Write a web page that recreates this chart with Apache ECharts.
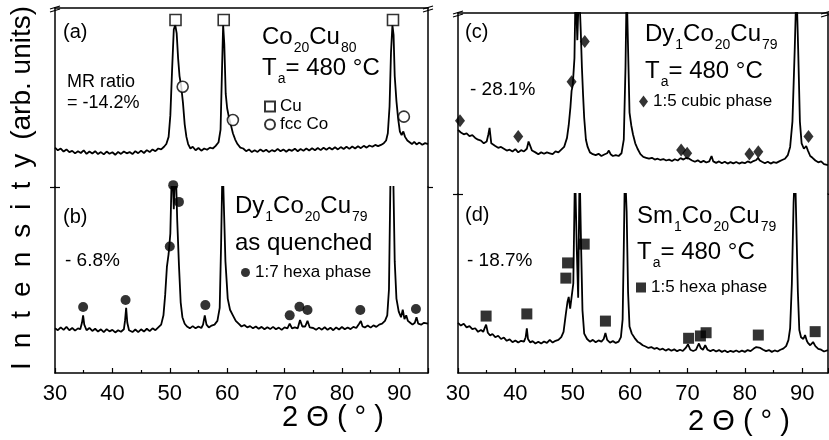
<!DOCTYPE html>
<html>
<head>
<meta charset="utf-8">
<script src="https://cdn.jsdelivr.net/npm/echarts@6/dist/echarts.min.js"></script>
<style>
  html, body { margin: 0; padding: 0; background: #fff; }
  #main { width: 829px; height: 440px; }
</style>
</head>
<body>
<div id="main"></div>
<script>
// 2theta (deg) / intensity (0-100 of each panel height)
const traceA = [
  [30,22],[30.5,20.5],[31,21.5],[31.5,19.8],[32,21],[32.5,19.5],[33,20.2],[33.5,18.8],[34,20],[34.5,19],
  [35,20.5],[35.5,18.5],[36,19.8],[36.5,18.7],[37,20],[37.5,18.4],[38,19.5],[38.5,18.2],[39,19.8],[39.5,18.6],
  [40,19.4],[40.5,18],[41,19.6],[41.5,18.5],[42,19.8],[42.5,18.8],[43,19.5],[43.5,18.4],[44,20],[44.5,18.9],
  [45,20.3],[45.5,19],[46,20.6],[46.5,19.5],[47,21],[47.5,20],[48,21.5],[48.5,21],[49,22.5],[49.4,24],
  [49.8,28],[50.1,40],[50.4,65],[50.7,88],[50.95,90.5],[51.2,86],[51.45,72],[51.7,62],[52.0,56],[52.3,47],
  [52.6,35],[52.9,28],[53.2,24],[53.6,21.5],[54,22.5],[54.5,20.5],[55,21.8],[55.5,20.3],[56,21.5],[56.5,20.8],
  [57,22],[57.5,21.5],[58,23],[58.5,25],[58.85,32],[59.1,65],[59.3,90.5],[59.5,80],[59.75,52],[60.0,44],
  [60.3,39],[60.7,34],[61,30],[61.4,26.5],[61.8,24],[62.3,22],[62.8,21.5],[63.3,20],[63.8,21],[64.3,19.5],
  [64.8,20.5],[65.3,19.6],[65.8,21],[66.3,19.8],[66.8,20.8],[67.3,19.5],[67.8,20.6],[68.3,19.9],[68.8,21.3],[69.3,20],
  [69.8,21],[70.3,19.7],[70.8,20.9],[71.3,20.2],[71.8,21.4],[72.3,20],[72.8,21.2],[73.3,20.3],[73.8,21.5],[74.3,20.4],
  [74.8,21.6],[75.3,20.5],[75.8,21.8],[76.3,20.6],[76.8,21.9],[77.3,20.8],[77.8,22],[78.3,21],[78.8,22.2],[79.3,21],
  [79.8,22.3],[80.3,21.2],[80.8,22.5],[81.3,21.3],[81.8,22.6],[82.3,21.5],[82.8,22.8],[83.3,21.7],[83.8,23],[84.3,22],
  [84.8,23.2],[85.3,22.5],[85.8,23.5],[86.3,22.8],[86.8,23.5],[87.3,24.5],[87.7,26],[88.0,30],[88.3,45],[88.55,75],
  [88.8,90.5],[89.0,85],[89.2,62],[89.5,48],[89.8,38],[90.1,31],[90.4,29],[90.7,31],[91.0,28],[91.4,26],
  [91.8,25],[92.2,24],[92.6,25.2],[93,23.8],[93.5,24.8],[94,23.6],[94.5,24.5],[95,24]
];
const traceB = [
  [30,24],[30.5,23],[31,24.5],[31.5,23.2],[32,24.8],[32.5,23],[33,24.2],[33.5,22.8],[34,24],[34.4,23.5],
  [34.7,27],[34.9,31],[35.1,26],[35.5,23],[36,24.2],[36.5,22.6],[37,23.8],[37.5,22.3],[38,23.5],[38.5,22],
  [39,23.6],[39.5,22.4],[40,23.2],[40.5,21.8],[41,23],[41.5,22.2],[42,23.5],[42.2,28],[42.4,35],[42.6,27],
  [42.9,23],[43.5,22],[44,23.4],[44.5,22],[45,23.5],[45.5,22.3],[46,23.8],[46.5,22.5],[47,24],[47.5,23],
  [48,24.5],[48.5,26],[48.9,31],[49.2,42],[49.5,57],[49.8,64],[50.1,75],[50.4,115],[50.7,88],[51.0,115],
  [51.3,82],[51.6,58],[51.9,38],[52.2,30],[52.6,26.5],[53,25],[53.5,24],[54,25.2],[54.5,24],[55,25],
  [55.5,24.2],[55.8,26],[56.1,31],[56.4,26],[56.8,24.5],[57.3,25.5],[57.8,26],[58.3,28],[58.7,35],[58.95,70],
  [59.2,115],[59.45,115],[59.7,60],[60.1,40],[60.5,34],[61,31],[61.5,28],[62,26.5],[62.5,25],[63,25.8],
  [63.5,24.5],[64,25.2],[64.5,24],[65,25],[65.5,23.8],[66,24.8],[66.5,23.5],[67,24.6],[67.5,23.6],[68,24.8],
  [68.5,23.5],[69,24.4],[69.5,23.2],[70,24.5],[70.5,24],[70.9,26.5],[71.3,24],[71.8,24.5],[72.3,24],[72.7,28.5],
  [73.1,25],[73.6,25],[74,28],[74.4,24.5],[75,24.2],[75.5,23.2],[76,24.4],[76.5,23.3],[77,24.6],[77.5,23.2],
  [78,24.3],[78.5,23],[79,24.5],[79.5,23.4],[80,24.7],[80.5,23.5],[81,24.5],[81.5,23.6],[82,24.8],[82.5,24.2],
  [83,26.5],[83.3,28],[83.6,25],[84,24.5],[84.5,25.5],[85,24.4],[85.5,25.6],[86,24.8],[86.5,26],[87,26.5],
  [87.5,28],[87.9,31],[88.2,45],[88.5,115],[88.9,115],[89.2,60],[89.5,40],[89.9,33],[90.3,30],[90.6,34],
  [90.9,29],[91.2,31],[91.5,28],[91.9,27],[92.3,26],[92.7,27],[93.0,30],[93.3,26.5],[93.8,26],[94.3,27],[95,26.5]
];
const traceC = [
  [30,35.4],[30.5,34],[31,33],[31.5,33.5],[32,32],[32.5,32.5],[33,31],[33.5,30],[34,29.5],[34.5,28],
  [35,29],[35.3,33],[35.5,36.5],[35.8,28],[36,27],[36.5,26.5],[37,25.5],[37.5,26],[38,25],[38.5,24],
  [39,24.5],[39.5,23.5],[40,24.8],[40.5,23],[41,24.2],[41.5,23.5],[42,25],[42.3,29],[42.6,28],[42.9,24],
  [43.5,23],[44,22],[44.5,23],[45,22.2],[45.5,23],[46,22.5],[46.5,22],[47,23.5],[47.5,23],[48,24.5],
  [48.5,26],[49,31],[49.3,38],[49.6,48],[49.8,57],[50.0,60],[50.3,75],[50.5,115],[50.8,85],[51.1,115],
  [51.4,90],[51.6,70],[51.8,55],[52.0,42],[52.3,30],[52.6,26],[53,23],[53.5,22],[54,21.5],[54.5,22.2],
  [55,21],[55.5,21.8],[56,22.5],[56.3,24],[56.6,22],[57,21],[57.5,21.5],[58,21],[58.5,22.5],[58.9,30],
  [59.2,70],[59.4,115],[59.65,80],[59.9,45],[60.2,38],[60.5,33],[60.9,28],[61.3,25],[61.8,22],[62.3,20.5],
  [62.8,20],[63.3,19.5],[63.8,20],[64.3,19],[64.8,19.5],[65.3,18.8],[65.8,19.3],[66.3,18.5],[66.8,19],[67.3,18.2],
  [67.8,19.2],[68.3,18.5],[68.8,19.8],[69.3,19],[69.8,20],[70.3,19.5],[70.8,18.5],[71.3,17.8],[71.8,18.6],[72.3,17.5],
  [72.8,18.3],[73.3,17.4],[73.8,18],[74.2,21],[74.5,18],[75,17.2],[75.5,18],[76,17],[76.5,17.8],[77,16.8],
  [77.5,17.6],[78,16.9],[78.5,17.7],[79,16.8],[79.5,17.5],[80,17],[80.5,18],[81,17.3],[81.5,18.2],[82,18.8],
  [82.3,20],[82.6,18.5],[83,17.8],[83.5,17],[84,17.8],[84.5,16.8],[85,17.6],[85.5,17.2],[86,18],[86.5,18.8],
  [87,19.5],[87.5,21.5],[87.9,26],[88.3,40],[88.7,80],[89.0,115],[89.3,80],[89.6,40],[89.9,28],[90.3,25],
  [90.7,26.5],[91.0,24],[91.4,21],[91.8,20],[92.3,18.5],[92.8,17.5],[93.3,18],[93.8,16.5],[94.5,16]
];
const traceD = [
  [30,28],[30.5,26.5],[31,27.5],[31.5,25.5],[32,26.2],[32.5,24.5],[33,25],[33.5,23],[34,24],[34.4,23],
  [34.7,25.5],[34.9,27],[35.2,22.5],[35.6,21],[36,21.8],[36.5,20],[37,20.8],[37.5,19],[38,19.8],[38.5,18],
  [39,18.8],[39.5,17.2],[40,18.2],[40.5,17],[41,18],[41.5,17.5],[41.8,20],[42.0,25],[42.2,19],[42.6,17],
  [43,17.8],[43.5,16.5],[44,17.5],[44.5,16.5],[45,17.6],[45.5,16.8],[46,18.5],[46.5,17],[47,18],[47.5,18.5],
  [48,20],[48.4,23],[48.8,33],[49.1,40],[49.3,42.5],[49.55,36],[49.8,35],[50.1,50],[50.4,115],[50.7,70],
  [50.95,42],[51.2,115],[51.45,72],[51.7,35],[52.0,22],[52.5,19],[53,17.5],[53.5,18.5],[54,17.2],[54.5,18.2],
  [55,17.5],[55.4,19],[55.7,22.3],[56,18.5],[56.5,17],[57,17.8],[57.5,16.8],[58,17.5],[58.4,20],[58.7,30],
  [58.9,70],[59.1,115],[59.4,90],[59.65,45],[59.9,26],[60.3,22],[60.8,19.5],[61.3,17.5],[61.7,16.8],[62.2,15.5],
  [62.7,14.8],[63.2,14],[63.7,14.5],[64.2,13.5],[64.7,14],[65.2,13],[65.7,13.6],[66.2,12.5],[66.7,13.4],[67.2,12.4],
  [67.7,13.2],[68.2,12.2],[68.7,13],[69.2,12.3],[69.7,14],[70.1,16],[70.5,13],[71,12.3],[71.5,13],[72.0,16.5],
  [72.3,14],[72.7,13],[73.1,15.5],[73.5,13],[74,12.2],[74.5,13],[75,12],[75.5,12.8],[76,11.8],[76.5,12.6],
  [77,11.6],[77.5,12.4],[78,11.8],[78.5,12.6],[79,11.7],[79.5,12.5],[80,11.8],[80.5,12.8],[81,12.2],[81.5,13.5],
  [82,14.5],[82.3,15.6],[82.7,14],[83.2,13],[83.7,12.2],[84.2,12.8],[84.7,11.8],[85.2,12.6],[85.7,12],[86.2,13],
  [86.7,13.6],[87.2,15],[87.6,18.4],[87.9,25],[88.2,50],[88.5,95],[88.75,115],[89.0,80],[89.25,45],[89.5,24],
  [89.8,20],[90.2,19],[90.5,21.2],[90.8,18],[91.0,16.8],[91.4,15.5],[91.9,17.3],[92.3,15],[92.8,13.5],[93.3,13],
  [93.8,12],[94.5,12.8]
];

// phase markers
const cuPeaks = [[51.0,93.3],[59.4,93.3],[88.9,93.3]];
const fccCoPeaks = [[52.25,56],[61.0,37.4],[90.8,39.3]];
const hexa17Peaks = [[34.9,35.5],[42.3,39.2],[50.0,68],[50.6,101],[51.6,92],[56.2,36.5],[70.9,31],[72.6,35.6],[74.0,33.9],[83.2,33.9],[92.9,34.4]];
const cubic15Peaks = [[30.35,40.5],[40.5,31.7],[49.8,62],[52.1,84.2],[68.9,24.3],[69.95,22.5],[80.8,22.1],[82.35,23.4],[91.1,31.7]];
const hexa15Peaks = [[34.9,31.8],[42.0,33],[48.8,53],[49.1,61.5],[52.0,72],[55.7,29],[70.2,19.4],[72.26,20.7],[73.25,22.5],[82.35,21.2],[92.26,23.1]];

const FONT = '"Liberation Sans", Arial, Helvetica, sans-serif';
const INK = '#000';

const grids = [
  {left: 55, top: 8, width: 373, height: 179},
  {left: 55, top: 187, width: 373, height: 186},
  {left: 458, top: 13, width: 370, height: 181},
  {left: 458, top: 194, width: 370, height: 179}
];

function xAx(i) {
  const bottom = (i % 2 === 1);
  return {
    gridIndex: i, type: 'value', min: 30, max: i < 2 ? 95 : 94.5, interval: 10,
    position: bottom ? 'bottom' : 'top',
    axisLine: {show: true, onZero: false, lineStyle: {color: INK, width: 1.5}},
    axisTick: {show: bottom, inside: true, length: 5, lineStyle: {color: INK, width: 1.2}},
    minorTick: {show: bottom, splitNumber: 2, length: 3, lineStyle: {color: INK, width: 1.2}},
    axisLabel: {show: bottom, showMaxLabel: false, fontSize: 22, fontFamily: FONT, color: INK, margin: 10},
    splitLine: {show: false}
  };
}
function yAx(i, side) {
  const upper = (i % 2 === 0);
  return {
    gridIndex: i, type: 'value', min: 0, max: 100, position: side,
    axisLine: {show: true, onZero: false, lineStyle: {color: INK, width: 1.5}},
    axisTick: upper
      ? {show: side === 'left', inside: true, length: 5, customValues: [0], lineStyle: {color: INK, width: 1.2}}
      : {show: true, inside: false, length: 5, customValues: [100], lineStyle: {color: INK, width: 1.2}},
    axisLabel: {show: false},
    splitLine: {show: false}
  };
}

function trace(data, i) {
  return {
    type: 'line', data: data, xAxisIndex: i, yAxisIndex: 2 * i,
    showSymbol: false, clip: true, silent: true,
    lineStyle: {color: INK, width: 1.8}
  };
}
function marks(name, data, i, symbol, size, hollow) {
  return {
    type: 'scatter', name: name, data: data, xAxisIndex: i, yAxisIndex: 2 * i,
    symbol: symbol, symbolSize: size, clip: false, z: 5,
    itemStyle: hollow ? {color: '#fff', borderColor: INK, borderWidth: 1.6} : {color: INK}
  };
}

function plain(x, base, text, size) {
  return {type: 'text', x: x, y: base - 0.85 * size,
    style: {text: text, fontSize: size, lineHeight: size, fontFamily: FONT, fill: INK, verticalAlign: 'top'}};
}
const richStyle = {
  m: {fontSize: 24, lineHeight: 24, verticalAlign: 'top', fontFamily: FONT, fill: INK},
  s: {fontSize: 14, lineHeight: 14, padding: [16, 0, 0, 1], verticalAlign: 'top', fontFamily: FONT, fill: INK}
};
function formula(x, base, text) {
  return {type: 'text', x: x, y: base - 20.4, style: {text: text, verticalAlign: 'top', rich: richStyle}};
}
function brk(cx, cy) {
  return [
    {type: 'line', shape: {x1: cx - 5, y1: cy + 2, x2: cx + 5, y2: cy - 1}, style: {stroke: INK, lineWidth: 1.2}},
    {type: 'line', shape: {x1: cx - 5, y1: cy + 5, x2: cx + 5, y2: cy + 2}, style: {stroke: INK, lineWidth: 1.2}}
  ];
}
function legendAt(names, left, top, w, h) {
  return {
    data: names, orient: 'vertical', left: left, top: top, padding: 0, itemGap: 1,
    itemWidth: w, itemHeight: h, selectedMode: false,
    textStyle: {fontSize: 17, fontFamily: FONT, color: INK}
  };
}

const chart = echarts.init(document.getElementById('main'), null, {renderer: 'canvas'});
chart.setOption({
  backgroundColor: '#fff',
  animation: false,
  grid: grids,
  xAxis: [0, 1, 2, 3].map(xAx),
  yAxis: [0, 1, 2, 3].flatMap(i => [yAx(i, 'left'), yAx(i, 'right')]),
  legend: [
    legendAt(['Cu', 'fcc Co'], 264, 98, 10, 10),
    legendAt(['1:7 hexa phase'], 241, 264, 9, 9),
    legendAt(['1:5 cubic phase'], 639, 93, 9, 12),
    legendAt(['1:5 hexa phase'], 636, 279, 10, 10)
  ],
  series: [
    trace(traceA, 0), trace(traceB, 1), trace(traceC, 2), trace(traceD, 3),
    marks('Cu', cuPeaks, 0, 'rect', 11, true),
    marks('fcc Co', fccCoPeaks, 0, 'circle', 11, true),
    marks('1:7 hexa phase', hexa17Peaks, 1, 'circle', 10, false),
    marks('1:5 cubic phase', cubic15Peaks, 2, 'diamond', [10, 13], false),
    marks('1:5 hexa phase', hexa15Peaks, 3, 'rect', 11, false)
  ],
  graphic: [
    // panel (a)
    plain(63, 39, '(a)', 20),
    plain(67, 88, 'MR ratio', 18),
    plain(67, 109, '= -14.2%', 18),
    formula(262, 46, '{m|Co}{s|20}{m|Cu}{s|80}'),
    formula(262, 77, '{m|T}{s|a}{m|= 480 °C}'),
    // panel (b)
    plain(63, 224, '(b)', 20),
    plain(65, 267, '- 6.8%', 19),
    formula(235, 215, '{m|Dy}{s|1}{m|Co}{s|20}{m|Cu}{s|79}'),
    plain(235, 252, 'as quenched', 24),
    // panel (c)
    plain(465, 39, '(c)', 20),
    plain(470, 96, '- 28.1%', 19),
    formula(645, 43, '{m|Dy}{s|1}{m|Co}{s|20}{m|Cu}{s|79}'),
    formula(645, 80, '{m|T}{s|a}{m|= 480 °C}'),
    // panel (d)
    plain(465, 222, '(d)', 20),
    plain(467, 267, '- 18.7%', 19),
    formula(637, 225, '{m|Sm}{s|1}{m|Co}{s|20}{m|Cu}{s|79}'),
    formula(637, 261, '{m|T}{s|a}{m|= 480 °C}'),
    // axis titles
    {type: 'text', x: 22, y: 188, rotation: Math.PI / 2,
      style: {text: 'I\u2002n\u2002t\u2002e\u2002n\u2002s\u2002i\u2002t\u2002y\u2002(arb. units)', fontSize: 28,
        fontFamily: FONT, fill: INK, align: 'center', verticalAlign: 'middle'}},
    {type: 'text', x: 333, y: 418,
      style: {text: '2 Θ ( ° )', fontSize: 29, fontFamily: FONT, fill: INK, align: 'center', verticalAlign: 'middle'}},
    {type: 'text', x: 739, y: 422,
      style: {text: '2 Θ ( ° )', fontSize: 29, fontFamily: FONT, fill: INK, align: 'center', verticalAlign: 'middle'}},
    // axis break marks
    ...brk(55, 7), ...brk(428, 7), ...brk(458, 12), ...brk(826, 12)
  ]
});
</script>
</body>
</html>
